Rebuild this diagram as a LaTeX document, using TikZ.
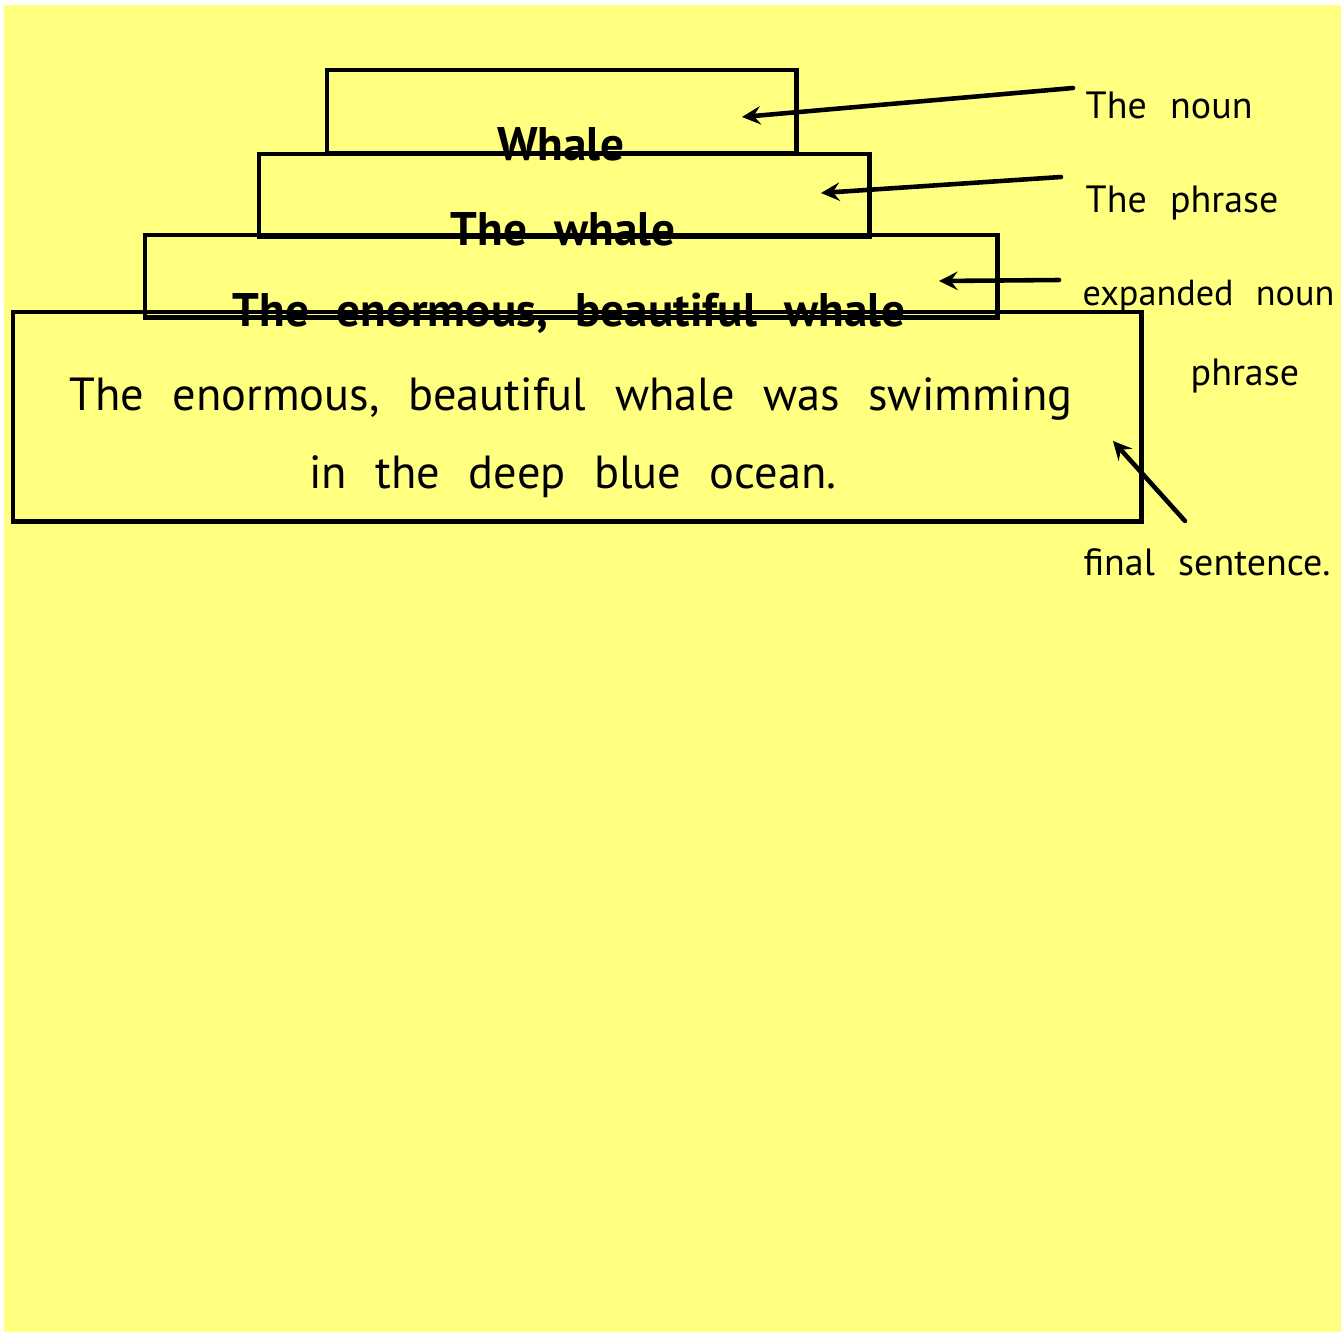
\documentclass[tikz,border=0pt]{standalone}
\usepackage{fontspec}
\setmainfont[WordSpace=2.3]{PT Sans}
\usetikzlibrary{arrows}

\definecolor{pad}{RGB}{255,255,128}

\begin{document}
\begin{tikzpicture}[x=0.01cm, y=-0.01cm]
		\useasboundingbox (0,0) rectangle (1341,1333);
		\fill[pad] (4,5) rectangle (1341,1332);

		% the four boxes, smallest on top
		\tikzstyle{every node} = [draw, rectangle, anchor=north west, line width=1.4pt, inner sep=0pt, outer sep=0pt]
		\node[minimum width=4.69cm, minimum height=0.83cm] (1) at (327,70) {};
		\node[minimum width=6.10cm, minimum height=0.82cm] (2) at (259,154) {};
		\node[minimum width=8.52cm, minimum height=0.82cm] (3) at (145,235) {};
		\node[minimum width=11.28cm, minimum height=2.09cm] (4) at (13,312) {};

		% what each box says
		\tikzstyle{every node} = [anchor=base, inner sep=0pt, font=\fontsize{13.2}{16}\selectfont]
		\node[font=\fontsize{13.4}{16}\selectfont\bfseries] (t1) at (561,160) {Whale};
		\node[font=\fontsize{13.4}{16}\selectfont\bfseries] (t2) at (563,245) {The whale};
		\node[font=\fontsize{13.4}{16}\selectfont\bfseries] (t3) at (569,326) {The enormous, beautiful whale};
		\node (t4) at (571,410) {The enormous, beautiful whale was swimming};
		\node (t5) at (573,488) {in the deep blue ocean.};

		% labels on the right
		\tikzstyle{every node} = [anchor=base west, inner sep=0pt, font=\fontsize{10.8}{12}\selectfont]
		\node (l1) at (1085,118) {The noun};
		\node (l2) at (1085,212) {The phrase};
		\node[font=\fontsize{10.3}{12}\selectfont] (l3) at (1082,305) {expanded noun};
		\node (l4) at (1190,385) {phrase};
		\node (l5) at (1083,575) {final sentence.};

		\coordinate (a1) at (1073,88);
		\coordinate (p1) at (742,117);
		\coordinate (a2) at (1061,177);
		\coordinate (p2) at (821,193);
		\coordinate (a3) at (1059,280);
		\coordinate (p3) at (939,281);
		\coordinate (a4) at (1185,521);
		\coordinate (p4) at (1113,441);

		\tikzstyle{every path} = [line width=1.3pt, line cap=round]
		\draw [-stealth] (a1) -- (p1);
		\draw [-stealth] (a2) -- (p2);
		\draw [-stealth] (a3) -- (p3);
		\draw [-stealth] (a4) -- (p4);
\end{tikzpicture}
\end{document}
